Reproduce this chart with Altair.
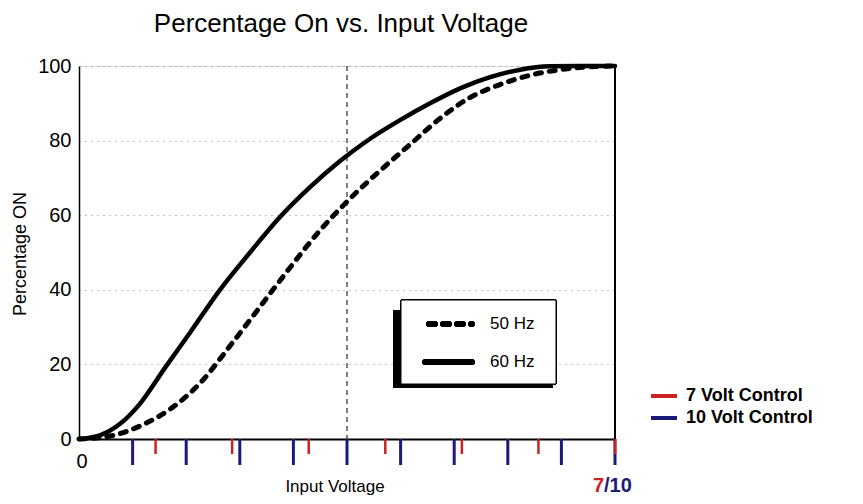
import altair as alt
import pandas as pd

# ---- data ----
volts_60 = [0, 0.39, 0.76, 1.14, 1.60, 2.07, 2.63, 3.19, 3.75, 4.31, 4.87, 5.43, 5.99, 6.55, 7.11, 7.67, 8.23, 8.79, 9.35, 10]
pct_60 = [0, 1, 4, 9.5, 19, 28.5, 40, 50, 59.5, 67.5, 74.5, 80.5, 85.5, 90, 94, 97, 99, 99.9, 100, 100]
volts_50 = [0, 0.58, 1.14, 1.70, 2.26, 2.82, 3.38, 3.94, 4.50, 5.06, 5.62, 6.18, 6.74, 7.29, 7.85, 8.41, 8.97, 9.53, 10]
pct_50 = [0, 0.8, 3.5, 8, 15, 25, 35.5, 46, 56, 64.5, 72, 79, 86, 91.5, 95, 97.5, 99, 99.8, 100]
ticks_10v = [1, 2, 3, 4, 5, 6, 7, 8, 9, 10]
ticks_7v = [1, 2, 3, 4, 5, 6, 7]
y_gridlines = [0, 10, 20, 30, 40, 50, 60, 70, 80, 90, 100]
series_names = ["50 Hz", "60 Hz"]
control_names = ["7 Volt Control", "10 Volt Control"]
title_text = "Percentage On vs. Input Voltage"

FONT = "Liberation Sans"
RED = "#cc2222"
NAVY = "#1a1a7a"
W, H = 536, 373

df60 = pd.DataFrame({"v": volts_60, "p": pct_60})
df50 = pd.DataFrame({"v": volts_50, "p": pct_50})
df10 = pd.DataFrame({"t": ticks_10v})
df7 = pd.DataFrame({"t": ticks_7v})

xs = alt.Scale(domain=[0, 10], nice=False, zero=False)
ys = alt.Scale(domain=[0, 100], nice=False)

base_axes = alt.Chart(df60).mark_line(opacity=0).encode(
    x=alt.X("v:Q", scale=xs, axis=alt.Axis(labels=False, ticks=False, grid=False, title=None,
                                          domainColor="black", domainWidth=2)),
    y=alt.Y("p:Q", scale=ys, axis=alt.Axis(values=y_gridlines, ticks=False, title=None,
                                          labelExpr="datum.value % 20 == 0 ? datum.label : ''",
                                          labelFont=FONT, labelFontSize=20, labelColor="black",
                                          labelPadding=8,
                                          grid=True, gridColor="#888", gridDash=[1, 5], gridWidth=1,
                                          domainColor="black", domainWidth=1.5)),
)

right_border = alt.Chart(df60).mark_rule(color="black", strokeWidth=1.5).encode(
    x=alt.value(W), y=alt.value(0), y2=alt.value(H))

mid_line = alt.Chart(pd.DataFrame({"v": [5]})).mark_rule(color="black", strokeWidth=1, strokeDash=[5, 4]).encode(
    x=alt.X("v:Q", scale=xs), y=alt.value(0), y2=alt.value(H))

line60 = alt.Chart(df60).mark_line(color="black", strokeWidth=4.5, interpolate="monotone", strokeCap="round").encode(
    x=alt.X("v:Q", scale=xs), y=alt.Y("p:Q", scale=ys))
line50 = alt.Chart(df50).mark_line(color="black", strokeWidth=5, interpolate="monotone",
                                    strokeDash=[6, 8], strokeCap="round").encode(
    x=alt.X("v:Q", scale=xs), y=alt.Y("p:Q", scale=ys))

blue_ticks = alt.Chart(df10).mark_rule(color=NAVY, strokeWidth=3).encode(
    x=alt.X("t:Q", scale=xs), y=alt.value(H), y2=alt.value(H + 26))
red_ticks = alt.Chart(df7).transform_calculate(xv="datum.t * 10 / 7").mark_rule(color=RED, strokeWidth=2.5).encode(
    x=alt.X("xv:Q", scale=xs), y=alt.value(H), y2=alt.value(H + 15))

def txt(text, x, y, size, color="black", weight="normal", align="center", angle=0):
    return alt.Chart(pd.DataFrame({"s": [text]})).mark_text(
        font=FONT, fontSize=size, color=color, fontWeight=weight, align=align,
        baseline="middle", angle=angle).encode(text="s:N", x=alt.value(x), y=alt.value(y))

title = txt(title_text, 262, -42, 26)
ytitle = txt("Percentage ON", -58, 188, 18, angle=270)
xlab0 = txt("0", 3, 396, 20)
xtitle = txt("Input Voltage", 256, 421, 17)
lab7 = txt("7", 525, 420, 20, color=RED, weight="bold", align="right")
lab10 = txt("/10", 525, 420, 20, color=NAVY, weight="bold", align="left")

# legend box with shadow
shadow = alt.Chart(df60).mark_rect(color="black").encode(
    x=alt.value(314), x2=alt.value(474), y=alt.value(244), y2=alt.value(322))
box = alt.Chart(df60).mark_rect(fill="white", stroke="black", strokeWidth=1).encode(
    x=alt.value(322), x2=alt.value(477), y=alt.value(234), y2=alt.value(318))
leg50 = alt.Chart(df60).mark_rule(color="black", strokeWidth=5, strokeDash=[6, 8], strokeCap="round").encode(
    x=alt.value(350), x2=alt.value(393), y=alt.value(258))
leg60 = alt.Chart(df60).mark_rule(color="black", strokeWidth=5, strokeCap="round").encode(
    x=alt.value(346), x2=alt.value(393), y=alt.value(296))
leg50t = txt(series_names[0], 411, 258, 17, align="left")
leg60t = txt(series_names[1], 411, 296, 17, align="left")

# control legend
red_leg = alt.Chart(df60).mark_rule(color=RED, strokeWidth=3).encode(
    x=alt.value(572), x2=alt.value(598), y=alt.value(330))
blue_leg = alt.Chart(df60).mark_rule(color=NAVY, strokeWidth=3.5).encode(
    x=alt.value(572), x2=alt.value(598), y=alt.value(352))
red_t = txt(control_names[0], 607, 330, 18, weight="bold", align="left")
blue_t = txt(control_names[1], 607, 352, 18, weight="bold", align="left")

chart = alt.layer(
    base_axes, mid_line, right_border, line50, line60, blue_ticks, red_ticks,
    shadow, box, leg50, leg60, leg50t, leg60t,
    red_leg, blue_leg, red_t, blue_t,
    title, ytitle, xlab0, xtitle, lab7, lab10,
).properties(
    width=W, height=H,
    autosize=alt.AutoSizeParams(type="none"),
    padding={"left": 71, "top": 58, "right": 240, "bottom": 57},
).configure_view(stroke=None).configure(background="white")

chart.save("out.html", embed_options={"renderer": "svg", "actions": False})
